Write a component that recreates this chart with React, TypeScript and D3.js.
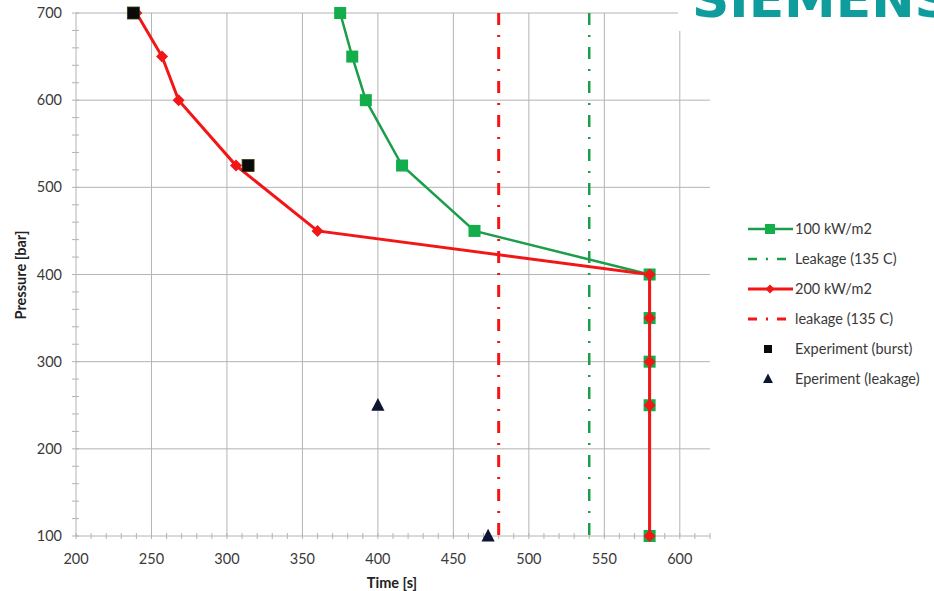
import React from "react";
import * as d3 from "d3";

const W = 934;
const H = 591;

const xTicks = [200, 250, 300, 350, 400, 450, 500, 550, 600];
const yTicks = [100, 200, 300, 400, 500, 600, 700];

// 100 kW/m2 series
const greenTime = [375, 383, 392, 416, 464, 580, 580, 580, 580, 580];
const greenPressure = [700, 650, 600, 525, 450, 400, 350, 300, 250, 100];

// 200 kW/m2 series
const redTime = [240, 257, 268, 306, 360, 580, 580, 580, 580, 580];
const redPressure = [700, 650, 600, 525, 450, 400, 350, 300, 250, 100];

// leakage vertical lines
const greenLeakTime = 540;
const redLeakTime = 480;

// experiments
const burstTime = [238, 314];
const burstPressure = [700, 525];
const leakTime = [400, 473];
const leakPressure = [250, 100];

const legendLabels = [
  "100 kW/m2",
  "Leakage (135 C)",
  "200 kW/m2",
  "leakage (135 C)",
  "Experiment (burst)",
  "Eperiment (leakage)",
];

const GREEN = "#1a9e4a";
const GREEN_M = "#14ad4c";
const RED = "#f21616";
const GRID = "#b4b4b4";
const TXT = "#3a3a3a";
const FONT = "Lato, 'Open Sans', sans-serif";

export default function App() {
  const left = 76, right = 710, top = 13, bottom = 536;
  const x = d3.scaleLinear().domain([200, 620]).range([left, right]);
  const y = d3.scaleLinear().domain([100, 700]).range([bottom, top]);
  const line = d3.line<[number, number]>().x((d) => x(d[0])).y((d) => y(d[1]));

  const green = greenTime.map((t, i) => [t, greenPressure[i]] as [number, number]);
  const red = redTime.map((t, i) => [t, redPressure[i]] as [number, number]);

  const xMinor = d3.range(200, 621, 10);
  const yMinor = d3.range(100, 701, 20);

  const diamond = (cx: number, cy: number, r: number) =>
    `M${cx},${cy - r}L${cx + r},${cy}L${cx},${cy + r}L${cx - r},${cy}Z`;
  const tri = (cx: number, cy: number, s: number) =>
    `M${cx},${cy - s * 0.6}L${cx + s * 0.55},${cy + s * 0.45}L${cx - s * 0.55},${cy + s * 0.45}Z`;

  const legY = (i: number) => 229 + i * 30;

  return (
    <svg width={W} height={H} style={{ position: "absolute", left: 0, top: 0, background: "#fff" }}>
      <rect x={0} y={0} width={W} height={H} fill="#fff" />
      {/* grid */}
      {xTicks.map((t) => (
        <line key={"gx" + t} x1={x(t)} x2={x(t)} y1={top} y2={bottom} stroke={GRID} strokeWidth={1} />
      ))}
      {yTicks.map((t) => (
        <line key={"gy" + t} x1={left} x2={right} y1={y(t)} y2={y(t)} stroke={GRID} strokeWidth={1} />
      ))}
      {/* minor ticks */}
      {xMinor.map((t) => (
        <line key={"mx" + t} x1={x(t)} x2={x(t)} y1={bottom - 3} y2={bottom + 3} stroke={GRID} />
      ))}
      {yMinor.map((t) => (
        <line key={"my" + t} x1={left - 4} x2={left + 3} y1={y(t)} y2={y(t)} stroke={GRID} />
      ))}
      {/* tick labels */}
      {xTicks.map((t) => (
        <text key={"tx" + t} x={x(t)} y={564} textAnchor="middle" fontFamily={FONT} fontSize={14.5} fill={TXT}>
          {t}
        </text>
      ))}
      {yTicks.map((t) => (
        <text key={"ty" + t} x={62} y={y(t) + 5} textAnchor="end" fontFamily={FONT} fontSize={14.5} fill={TXT}>
          {t}
        </text>
      ))}
      <text x={392} y={588} textAnchor="middle" fontFamily={FONT} fontSize={14.5} fontWeight="bold" fill="#222">
        Time [s]
      </text>
      <text
        transform={`translate(26,${275}) rotate(-90)`}
        textAnchor="middle"
        fontFamily={FONT}
        fontSize={14.5}
        fontWeight="bold"
        fill="#222"
      >
        Pressure [bar]
      </text>

      {/* leakage lines */}
      <line x1={x(redLeakTime)} x2={x(redLeakTime)} y1={y(700)} y2={y(100)} stroke={RED} strokeWidth={3} strokeDasharray="12 10 2 10" />
      <line x1={x(greenLeakTime)} x2={x(greenLeakTime)} y1={y(700)} y2={y(100)} stroke={GREEN} strokeWidth={2.5} strokeDasharray="12 10 2 10" />

      {/* green series */}
      <path d={line(green) || ""} fill="none" stroke={GREEN} strokeWidth={2.5} />
      {green.map((d, i) => (
        <rect key={"gs" + i} x={x(d[0]) - 6} y={y(d[1]) - 6} width={12} height={12} fill={GREEN_M} />
      ))}

      {/* red series */}
      <path d={line(red) || ""} fill="none" stroke={RED} strokeWidth={3} />
      {red.map((d, i) => (
        <path key={"rd" + i} d={diamond(x(d[0]), y(d[1]), 6)} fill={RED} />
      ))}

      {/* experiments */}
      {burstTime.map((t, i) => (
        <rect key={"b" + i} x={x(t) - 6} y={y(burstPressure[i]) - 6} width={12} height={12} fill="#0a0a0a" stroke="#3a3a10" strokeWidth={0.8} />
      ))}
      {leakTime.map((t, i) => (
        <path key={"l" + i} d={tri(x(t), y(leakPressure[i]), 12)} fill="#0d1530" />
      ))}

      {/* legend */}
      <g>
        <line x1={748} x2={793} y1={legY(0)} y2={legY(0)} stroke={GREEN} strokeWidth={2.5} />
        <rect x={765} y={legY(0) - 5} width={10} height={10} fill={GREEN_M} />
        <line x1={748} x2={793} y1={legY(1)} y2={legY(1)} stroke={GREEN} strokeWidth={2.5} strokeDasharray="9 9 2 9" />
        <line x1={748} x2={793} y1={legY(2)} y2={legY(2)} stroke={RED} strokeWidth={3} />
        <path d={diamond(770, legY(2), 4.5)} fill={RED} />
        <line x1={748} x2={793} y1={legY(3)} y2={legY(3)} stroke={RED} strokeWidth={3} strokeDasharray="9 9 2 9" />
        <rect x={764} y={legY(4) - 4} width={8} height={8} fill="#0a0a0a" />
        <path d={tri(768, legY(5), 9)} fill="#0d1530" />
        {legendLabels.map((l, i) => (
          <text key={"lg" + i} x={795} y={legY(i) + 5} fontFamily={FONT} fontSize={14.5} fill={TXT}>
            {l}
          </text>
        ))}
      </g>

      {/* logo */}
      <rect x={678} y={0} width={W - 678} height={31} fill="#fff" />
      <text x={692} y={17} fontFamily="'DejaVu Sans', sans-serif" fontWeight="bold" fontSize={50} fill="#0f9c9c" textLength={260} lengthAdjust="spacingAndGlyphs">
        SIEMENS
      </text>
    </svg>
  );
}
